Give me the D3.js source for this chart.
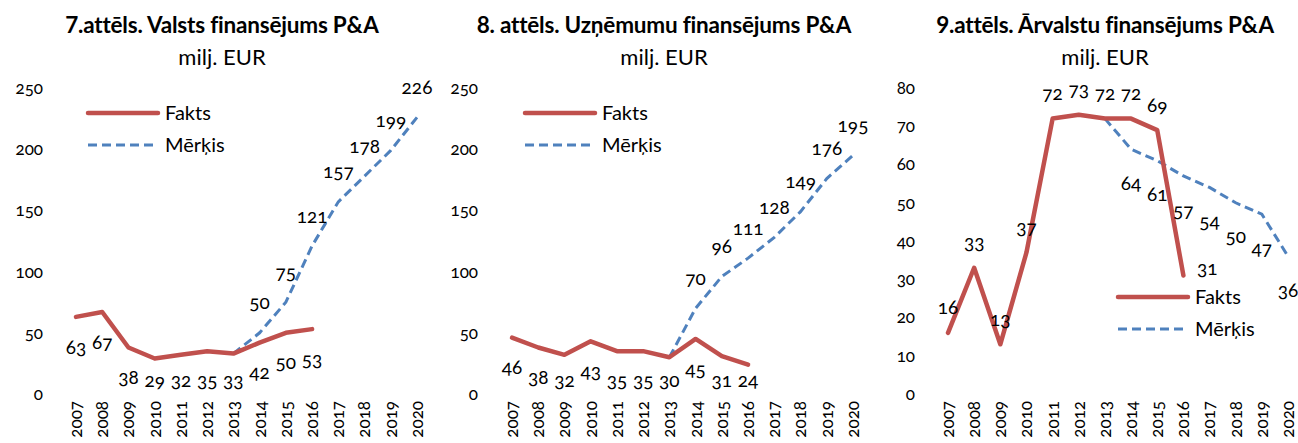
<!DOCTYPE html>
<html>
<head>
    <meta charset="utf-8">
    <title>P&A finansējums</title>
    <script src="https://d3js.org/d3.v7.min.js"></script>
    <style>
        body {
            margin: 0;
            background: #fff;
            font-family: Lato, "Open Sans", sans-serif;
        }
        text { fill: #000; }
        .title { font-size: 22.5px; font-weight: bold; letter-spacing: -0.2px; }
        .subtitle { font-size: 22px; }
        .tick-label { font-size: 17px; font-feature-settings: "onum"; }
        .data-label { font-size: 19px; font-feature-settings: "onum"; }
        .legend-label { font-size: 20px; }
        .fakts { fill: none; stroke: #C0504D; stroke-width: 4.5px; stroke-linejoin: round; stroke-linecap: round; }
        .merkis { fill: none; stroke: #4F81BD; stroke-width: 3px; stroke-dasharray: 9,5; }
    </style>
</head>
<body>
    <svg id="chart" width="1298" height="443"></svg>
    <script>
        // years shown on every x axis
        const years = d3.range(2007, 2021);
        const factYears = d3.range(2007, 2017);
        const targetYears = d3.range(2013, 2021);

        // 7.attēls - valsts
        const stateFacts = [63, 67, 38, 29, 32, 35, 33, 42, 50, 53];
        const stateTarget = [33, 50, 75, 121, 157, 178, 199, 226];
        // 8.attēls - uzņēmumi
        const businessFacts = [46, 38, 32, 43, 35, 35, 30, 45, 31, 24];
        const businessTarget = [30, 70, 96, 111, 128, 149, 176, 195];
        // 9.attēls - ārvalstis
        const foreignFacts = [16, 33, 13, 37, 72, 73, 72, 72, 69, 31];
        const foreignTarget = [72, 64, 61, 57, 54, 50, 47, 36];

        const ticks250 = [0, 50, 100, 150, 200, 250];
        const ticks80 = [0, 10, 20, 30, 40, 50, 60, 70, 80];

        const svg = d3.select("#chart");

        const charts = [
            {
                title: "7.attēls. Valsts finansējums P&A", cx: 222,
                facts: stateFacts, target: stateTarget, ticks: ticks250, max: 250,
                x0: 76, x1: 417, yLabelX: 43,
                factsBelow: true, legend: { x: 88, y: 113 }
            },
            {
                title: "8. attēls. Uzņēmumu finansējums P&A", cx: 664,
                facts: businessFacts, target: businessTarget, ticks: ticks250, max: 250,
                x0: 512, x1: 853, yLabelX: 478,
                factsBelow: true, legend: { x: 525, y: 113 }
            },
            {
                title: "9.attēls. Ārvalstu finansējums P&A", cx: 1105,
                facts: foreignFacts, target: foreignTarget, ticks: ticks80, max: 80,
                x0: 948, x1: 1288, yLabelX: 915,
                factsBelow: false, legend: { x: 1118, y: 297 }
            }
        ];

        charts.forEach(c => {
            const x = d3.scalePoint().domain(years).range([c.x0, c.x1]);
            const y = d3.scaleLinear().domain([0, c.max]).range([394, 88]);
            const g = svg.append("g");

            g.append("text").attr("class", "title")
                .attr("x", c.cx).attr("y", 33)
                .attr("text-anchor", "middle").text(c.title);
            g.append("text").attr("class", "subtitle")
                .attr("x", c.cx).attr("y", 65)
                .attr("text-anchor", "middle").text("milj. EUR");

            // y tick labels, no axis line
            g.selectAll(".ytick").data(c.ticks).enter()
                .append("text").attr("class", "tick-label")
                .attr("x", c.yLabelX).attr("y", d => y(d))
                .attr("dy", "0.35em").attr("text-anchor", "end")
                .text(d => d);

            // x tick labels, rotated
            g.selectAll(".xtick").data(years).enter()
                .append("text").attr("class", "tick-label")
                .attr("transform", d => `translate(${x(d)},401) rotate(-90)`)
                .attr("dy", "0.35em").attr("text-anchor", "end")
                .text(d => d);

            const factPts = factYears.map((yr, i) => ({ yr, v: c.facts[i] }));
            const targetPts = targetYears.map((yr, i) => ({ yr, v: c.target[i] }));
            const line = d3.line().x(d => x(d.yr)).y(d => y(d.v));

            g.append("path").datum(targetPts).attr("class", "merkis").attr("d", line);
            g.append("path").datum(factPts).attr("class", "fakts").attr("d", line);

            // data labels for Fakts
            g.selectAll(".flab").data(factPts).enter()
                .append("text").attr("class", "data-label")
                .attr("x", (d, i) => (!c.factsBelow && i === factPts.length - 1) ? x(d.yr) + 24 : x(d.yr))
                .attr("y", (d, i) => {
                    if (c.factsBelow) return Math.min(y(d.v) + 30, 380);
                    if (i === factPts.length - 1) return y(d.v) - 7;
                    return y(d.v) - 25;
                })
                .attr("dy", "0.35em").attr("text-anchor", "middle")
                .text(d => d.v);

            // data labels for Mērķis (first point shares the Fakts label)
            g.selectAll(".tlab").data(targetPts.slice(1)).enter()
                .append("text").attr("class", "data-label")
                .attr("x", d => x(d.yr))
                .attr("y", d => c.factsBelow ? y(d.v) - 30 : y(d.v) + 34)
                .attr("dy", "0.35em").attr("text-anchor", "middle")
                .text(d => d.v);

            // legend
            const lg = g.append("g").attr("transform", `translate(${c.legend.x},${c.legend.y})`);
            lg.append("line").attr("class", "fakts").attr("x1", 0).attr("x2", 70).attr("y1", 0).attr("y2", 0);
            lg.append("text").attr("class", "legend-label").attr("x", 77).attr("dy", "0.35em").text("Fakts");
            lg.append("line").attr("class", "merkis").attr("x1", 0).attr("x2", 70).attr("y1", 32).attr("y2", 32);
            lg.append("text").attr("class", "legend-label").attr("x", 77).attr("y", 32).attr("dy", "0.35em").text("Mērķis");
        });
    </script>
</body>
</html>
